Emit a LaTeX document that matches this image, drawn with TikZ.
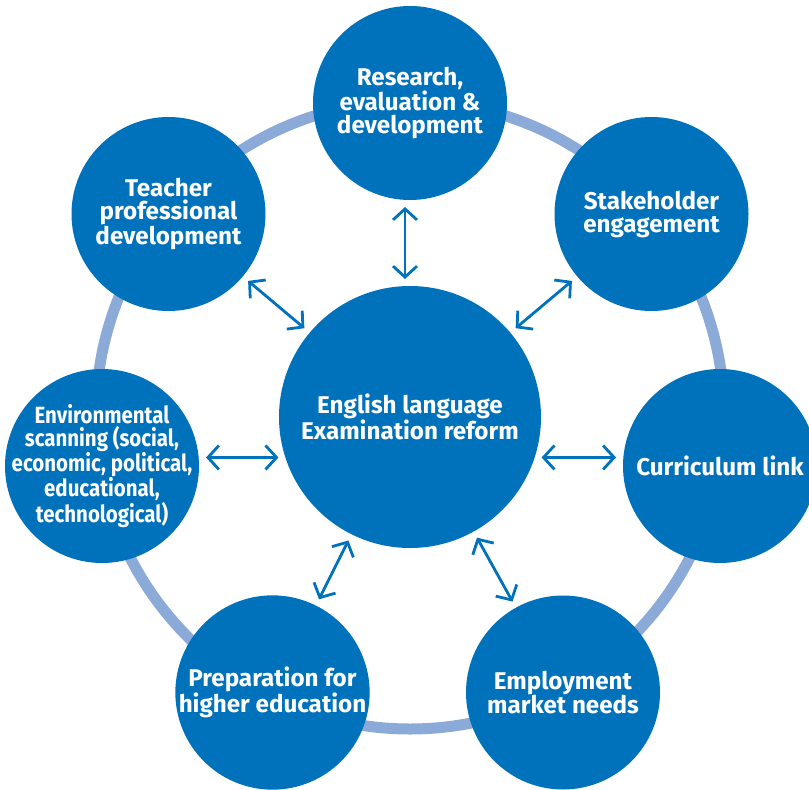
\documentclass[tikz,border=0pt]{standalone}
\usepackage{fontspec}
\setmainfont{Fira Sans}
\newfontfamily\condfont{Fira Sans Bold}[FakeStretch=0.87]
\usetikzlibrary{arrows.meta}
\definecolor{cblue}{RGB}{0,114,188}
\definecolor{rblue}{RGB}{139,170,216}
\begin{document}
\begin{tikzpicture}[x=1pt,y=-1pt,
  bub/.style={circle,fill=cblue,draw=none,minimum size=194pt,inner sep=0pt,outer sep=0pt,
    text=white,align=center,font=\bfseries\fontsize{24.2}{23}\selectfont},
  condtext/.style={inner sep=0pt,text=white,align=center,font=\condfont\fontsize{23.5}{22.3}\selectfont},
  arr/.style={draw=cblue,line width=2.8pt,
    {Straight Barb[length=11pt,width=24pt]}-{Straight Barb[length=11pt,width=24pt]},
    shorten >=7pt,shorten <=7pt}]
\useasboundingbox (0,0) rectangle (809,790);
\draw[rblue,line width=11pt] (410,415) circle[radius=314];
\node[bub,minimum size=262pt] (c) at (410,417) {English language\\Examination reform};
\node[bub] (t) at (410,103) {Research,\\evaluation \&\\development};
\node[bub] (tch) at (168.5,214) {Teacher\\professional\\development};
\node[bub] (sk) at (651.5,214) {Stakeholder\\engagement};
\node[bub] (env) at (102,466) {};
\node[condtext] (envt) at (env.center) {Environmental\\scanning (social,\\economic, political,\\educational,\\technological)};
\node[bub] (cur) at (720,466) {Curriculum link};
\node[bub] (prep) at (272.5,692.5) {Preparation for\\higher education};
\node[bub] (emp) at (563,692.5) {Employment\\market needs};
\draw[arr] ([xshift=-5pt]t.south) -- ([xshift=-5pt]c.north);
\draw[arr] (tch) -- (c);
\draw[arr] (sk) -- (c);
\draw[arr] (c.198) -- (c.198 -| env.east);
\draw[arr] (c.-18) -- (c.-18 -| cur.west);
\draw[arr] (prep) -- (c);
\draw[arr] (emp) -- (c);
\end{tikzpicture}
\end{document}
